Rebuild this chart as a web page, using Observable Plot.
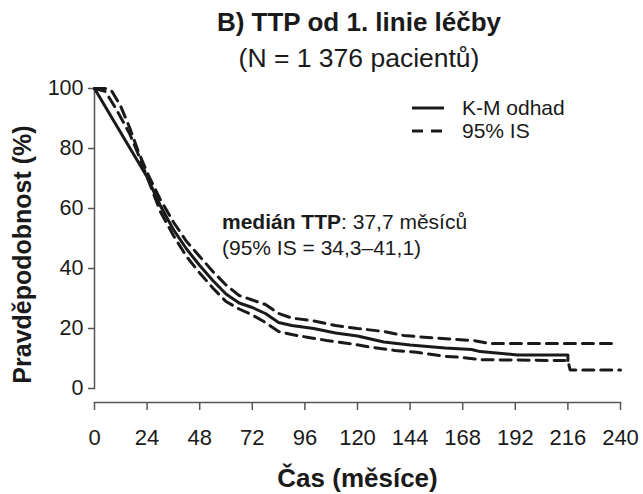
<!DOCTYPE html>
<html>
<head>
<meta charset="utf-8">
<script src="https://cdn.jsdelivr.net/npm/d3@7"></script>
<script src="https://cdn.jsdelivr.net/npm/@observablehq/plot@0.6"></script>
<style>
  body { margin: 0; background: #fff; font-family: "Liberation Sans", Arial, sans-serif; color: #1a1a1a; }
  #wrap { position: relative; width: 643px; height: 494px; overflow: hidden; }
  #title { position: absolute; top: 7px; left: 75px; width: 568px; text-align: center; font-size: 26px; font-weight: bold; line-height: 30px; }
  #subtitle { position: absolute; top: 43px; left: 75px; width: 568px; text-align: center; font-size: 26.5px; line-height: 30px; }
  #chart { position: absolute; top: 75px; left: 0; }
  #legend { position: absolute; left: 410px; top: 96px; font-size: 21px; line-height: 23px; }
  #legend div { display: flex; align-items: center; height: 23px; }
  #legend svg { margin-right: 16px; }
  #note { position: absolute; left: 222px; top: 209px; font-size: 21px; line-height: 26px; }
</style>
</head>
<body>
<div id="wrap">
  <div id="title"></div>
  <div id="subtitle"></div>
  <div id="chart"></div>
  <div id="legend"></div>
  <div id="note"></div>
</div>
<script>
// ---- data ----
const titleText = "B) TTP od 1. linie léčby";
const subtitleText = "(N = 1 376 pacientů)";
const xLabel = "Čas (měsíce)";
const yLabel = "Pravděpodobnost (%)";
const xTicks = [0, 24, 48, 72, 96, 120, 144, 168, 192, 216, 240];
const yTicks = [0, 20, 40, 60, 80, 100];
const legendLabels = ["K-M odhad", "95% IS"];
const noteBold = "medián TTP";
const noteRest = ": 37,7 měsíců";
const noteLine2 = "(95% IS = 34,3–41,1)";

// K-M estimate
const kmT = [0, 24, 30, 36, 42, 48, 54, 60, 66, 72, 78, 84, 90, 100, 110, 120, 132, 144, 160, 172, 176, 193, 216, 216];
const kmS = [100, 70.5, 61, 53, 46.5, 41, 36, 31.5, 28.5, 27, 25, 22, 21, 20, 18.5, 17.5, 15.5, 14.5, 13.5, 13, 12.3, 11.2, 11.2, 9.3];
// upper 95% CI
const upT = [0, 5, 8, 12, 16, 20, 24, 30, 36, 42, 48, 54, 60, 66, 72, 78, 84, 90, 100, 110, 120, 132, 141, 152, 162, 173, 180, 236];
const upS = [100, 100, 99, 94, 87, 79, 72, 63, 55.5, 49, 44, 39, 34.5, 31, 29.5, 28, 25, 23.5, 22.5, 21, 20, 19, 17.7, 17, 16.5, 16, 15, 15];
// lower 95% CI
const loT = [0, 5, 10, 16, 20, 24, 30, 36, 42, 48, 54, 60, 66, 72, 78, 84, 90, 97, 106, 117, 126, 137, 147, 160, 167, 176, 216, 217, 240];
const loS = [100, 99, 93, 85, 78, 70.5, 59, 51, 44, 38.5, 33.5, 29, 26.5, 24.5, 22, 19, 18, 17.1, 16, 14.9, 13.8, 12.7, 12.1, 10.7, 10.4, 9.6, 9.3, 6.2, 6.2];

const km = kmT.map((t, i) => ({t, s: kmS[i]}));
const up = upT.map((t, i) => ({t, s: upS[i]}));
const lo = loT.map((t, i) => ({t, s: loS[i]}));

const ink = "#1a1a1a";
const axisInk = "#555";

document.getElementById("title").textContent = titleText;
document.getElementById("subtitle").textContent = subtitleText;

const plot = Plot.plot({
  width: 643,
  height: 419,
  marginLeft: 94,
  marginRight: 23,
  marginTop: 13,
  marginBottom: 106,
  style: {fontFamily: "'Liberation Sans', Arial, sans-serif", color: ink, background: "#fff", overflow: "visible"},
  x: {domain: [0, 240]},
  y: {domain: [0, 100]},
  marks: [
    Plot.frame({anchor: "left", stroke: axisInk, strokeWidth: 1.5}),
    Plot.axisY({ticks: yTicks, tickSize: 6, tickPadding: 5, fontSize: 21.5, stroke: axisInk, strokeWidth: 1.5, label: null, color: ink}),
    Plot.frame({anchor: "bottom", stroke: axisInk, strokeWidth: 1.5, dy: 14}),
    Plot.axisX({ticks: xTicks, tickSize: 8, tickPadding: 19, fontSize: 22, stroke: axisInk, strokeWidth: 1.5, dy: 14, label: null, color: ink}),
    Plot.text([yLabel], {frameAnchor: "left", textAnchor: "middle", lineAnchor: "middle", rotate: -90, dx: -72, dy: 16, fontSize: 25, fontWeight: "bold", fill: ink}),
    Plot.text([xLabel], {frameAnchor: "bottom", lineAnchor: "middle", dy: 90, fontSize: 26, fontWeight: "bold", fill: ink}),
    Plot.line(up, {x: "t", y: "s", stroke: ink, strokeWidth: 3, strokeDasharray: "11,7"}),
    Plot.line(lo, {x: "t", y: "s", stroke: ink, strokeWidth: 3, strokeDasharray: "11,7"}),
    Plot.line(km, {x: "t", y: "s", stroke: ink, strokeWidth: 3})
  ]
});
document.getElementById("chart").appendChild(plot);

// legend
const legend = document.getElementById("legend");
legendLabels.forEach((lab, i) => {
  const row = document.createElement("div");
  const dash = i === 0 ? "" : ' stroke-dasharray="11,8"';
  row.innerHTML = `<svg width="36" height="10"><line x1="2" x2="34" y1="5" y2="5" stroke="${ink}" stroke-width="3"${dash}/></svg><span>${lab}</span>`;
  legend.appendChild(row);
});

// annotation
const note = document.getElementById("note");
note.innerHTML = `<div><b>${noteBold}</b>${noteRest}</div><div>${noteLine2}</div>`;
</script>
</body>
</html>
